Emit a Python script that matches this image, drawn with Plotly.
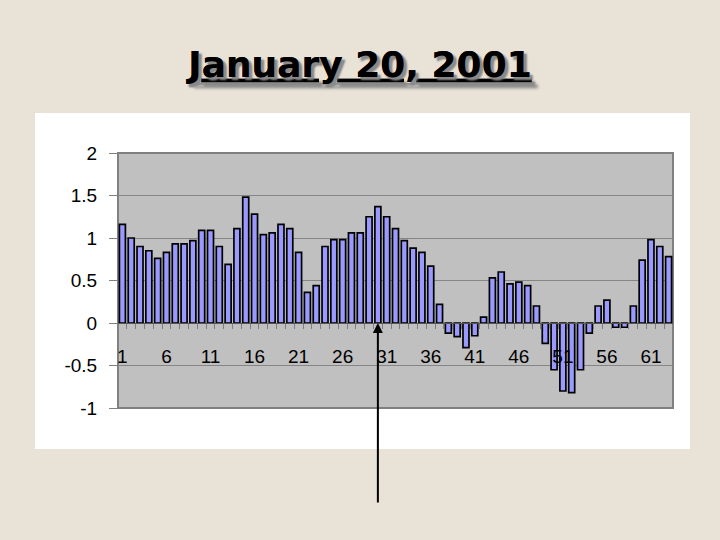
import plotly.graph_objects as go

# ---- data ----
categories = list(range(1, 64))
values = [1.16, 1.00, 0.90, 0.85, 0.76, 0.83, 0.93, 0.93, 0.97, 1.09,
          1.09, 0.90, 0.69, 1.11, 1.48, 1.28, 1.04, 1.06, 1.16, 1.11,
          0.83, 0.36, 0.44, 0.90, 0.98, 0.98, 1.06, 1.06, 1.25, 1.37,
          1.25, 1.11, 0.97, 0.88, 0.83, 0.67, 0.22, -0.12, -0.16, -0.29,
          -0.15, 0.07, 0.53, 0.60, 0.46, 0.48, 0.44, 0.20, -0.24, -0.55,
          -0.80, -0.82, -0.55, -0.12, 0.20, 0.27, -0.05, -0.05, 0.20, 0.74,
          0.98, 0.90, 0.78]
x_tickvals = [1, 6, 11, 16, 21, 26, 31, 36, 41, 46, 51, 56, 61]
x_ticktext = [str(v) for v in x_tickvals]
y_tickvals = [2, 1.5, 1, 0.5, 0, -0.5, -1]
y_ticktext = ["2", "1.5", "1", "0.5", "0", "-0.5", "-1"]
y_range = [-1, 2]
marked_category = 30
title_text = "January 20, 2001"

# ---- figure ----
fig = go.Figure()
fig.add_trace(go.Bar(
    x=categories, y=values,
    marker=dict(color="#9999ff", line=dict(color="#000000", width=1.7)),
    hoverinfo="x+y",
))

W, H = 720, 540
L, R, T, B = 118, 47, 153, 132
pw, ph = W - L - R, H - T - B
BG = "#e8e2d7"


def px_to_paper_x(px):
    return (px - L) / pw


def px_to_paper_y(py):
    return (H - B - py) / ph


shapes = [
    # white card
    dict(type="rect", xref="paper", yref="paper", layer="below",
         x0=px_to_paper_x(35), x1=px_to_paper_x(690),
         y0=px_to_paper_y(449), y1=px_to_paper_y(113),
         fillcolor="#ffffff", line=dict(width=0)),
    # gray plot area
    dict(type="rect", xref="paper", yref="paper", layer="below",
         x0=0, x1=1, y0=0, y1=1,
         fillcolor="#c0c0c0", line=dict(color="#808080", width=2)),
]

zero_pos = (0 - y_range[0]) / (y_range[1] - y_range[0])

fig.update_layout(
    width=W, height=H,
    margin=dict(l=L, r=R, t=T, b=B),
    paper_bgcolor=BG,
    plot_bgcolor="rgba(0,0,0,0)",
    showlegend=False,
    bargap=0.32,
    shapes=shapes,
    title=dict(
        text="<u>" + title_text + "</u>",
        x=0.5, xref="container", xanchor="center",
        y=1 - 64 / H, yref="container", yanchor="middle",
        font=dict(family="DejaVu Sans", size=36, color="#000000",
                  weight="bold", shadow="3px 3px 2px #8a8a8a"),
    ),
    xaxis=dict(
        range=[0.5, 63.5],
        anchor="free", position=zero_pos,
        tickmode="array", tickvals=x_tickvals, ticktext=x_ticktext,
        ticks="", ticklabelstandoff=16,
        tickfont=dict(family="Liberation Sans, Arial", size=19, color="#000000"),
        showgrid=False, zeroline=False,
        showline=True, linecolor="#555555", linewidth=1,
        minor=dict(ticks="outside", tickmode="array",
                   tickvals=[k + 0.5 for k in range(0, 64)],
                   ticklen=5, tickcolor="#808080", tickwidth=1, showgrid=False),
    ),
    yaxis=dict(
        range=y_range,
        tickmode="array", tickvals=y_tickvals, ticktext=y_ticktext,
        ticks="outside", ticklen=8, tickcolor="#808080", tickwidth=1,
        ticklabelstandoff=8,
        tickfont=dict(family="Liberation Sans, Arial", size=19, color="#000000"),
        showgrid=True, gridcolor="#858585", gridwidth=1,
        zeroline=False, showline=False,
    ),
    annotations=[dict(
        x=marked_category, y=0, xref="x", yref="y",
        text="", showarrow=True, arrowhead=2, arrowsize=1, arrowwidth=2,
        arrowcolor="#000000", ax=0, ay=181, standoff=0,
    )],
)

fig.write_html(
    "out.html",
    config={"displayModeBar": False},
    post_script="document.body.style.margin='0';document.body.style.background='" + BG + "';",
)
